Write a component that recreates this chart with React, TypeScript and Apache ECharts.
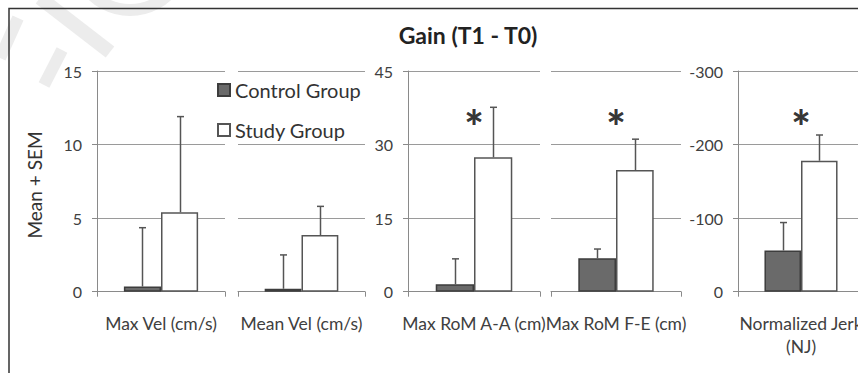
import React, { useEffect, useRef } from "react";
import * as echarts from "echarts";

const categories = [
  "Max Vel (cm/s)",
  "Mean Vel (cm/s)",
  "Max RoM A-A (cm)",
  "Max RoM F-E (cm)",
  "Normalized Jerk\n(NJ)",
];
const controlMean = [0.35, 0.2, 1.5, 6.8, -56];
const controlUpper = [4.35, 2.5, 6.7, 8.7, -94];
const studyMean = [5.4, 3.85, 27.4, 24.8, -178];
const studyUpper = [11.9, 5.8, 37.6, 31.1, -213];
const significant = [false, false, true, true, true];
const axisMin = [0, 0, 0, 0, -300];
const axisMax = [15, 15, 45, 45, 0];
const axisStep = [5, 5, 15, 15, 100];
const showYAxis = [true, false, true, false, true];
const seriesNames = ["Control Group", "Study Group"];
const titleText = "Gain (T1 - T0)";
const yAxisTitle = "Mean + SEM";

const FONT = 'Lato, "Open Sans", sans-serif';
const gridLefts = [97, 238, 408, 551, 738];
const gridWidths = [128, 127, 132, 130, 126];
const BAR_FRAC = 0.29;

export default function App() {
  const ref = useRef<HTMLDivElement>(null);
  useEffect(() => {
    if (!ref.current) return;
    const chart = echarts.init(ref.current, undefined, { renderer: "svg" });
    const grids: any[] = [];
    const xAxes: any[] = [];
    const yAxes: any[] = [];
    const series: any[] = [];
    categories.forEach((cat, i) => {
      grids.push({ left: gridLefts[i], width: gridWidths[i], top: 71, bottom: 81.3 });
      xAxes.push({
        type: "category",
        gridIndex: i,
        data: [cat],
        axisLine: { show: true, lineStyle: { color: "#8a8a8a", width: 1 } },
        axisTick: { show: true, length: 5, lineStyle: { color: "#8a8a8a" } },
        axisLabel: {
          interval: 0,
          margin: 20,
          color: "#404040",
          fontFamily: FONT,
          fontSize: 17.5,
          lineHeight: 23,
        },
      });
      yAxes.push({
        type: "value",
        gridIndex: i,
        min: axisMin[i],
        max: axisMax[i],
        interval: axisStep[i],
        inverse: axisMin[i] < 0,
        axisLine: { show: showYAxis[i], lineStyle: { color: "#8a8a8a", width: 1 } },
        axisTick: { show: showYAxis[i], length: 5, lineStyle: { color: "#8a8a8a" } },
        axisLabel: {
          show: showYAxis[i],
          margin: 15,
          color: "#404040",
          fontFamily: FONT,
          fontSize: 16,
        },
        splitLine: { show: true, lineStyle: { color: "#9a9a9a", width: 1 } },
      });
      series.push({
        type: "bar",
        name: seriesNames[0],
        xAxisIndex: i,
        yAxisIndex: i,
        data: [controlMean[i]],
        barWidth: BAR_FRAC * 100 + "%",
        barGap: "0%",
        itemStyle: { color: "#6a6a6a", borderColor: "#3d3d3d", borderWidth: 1.5 },
      });
      series.push({
        type: "bar",
        name: seriesNames[1],
        xAxisIndex: i,
        yAxisIndex: i,
        data: [studyMean[i]],
        barWidth: BAR_FRAC * 100 + "%",
        barGap: "0%",
        itemStyle: { color: "#ffffff", borderColor: "#555555", borderWidth: 1.5 },
      });
      const errData = [
        [0, controlMean[i], controlUpper[i], -1],
        [0, studyMean[i], studyUpper[i], 1],
      ];
      series.push({
        type: "custom",
        xAxisIndex: i,
        yAxisIndex: i,
        z: 5,
        data: errData,
        encode: { x: 0, y: [1, 2] },
        renderItem: (params: any, api: any) => {
          const c = api.value(0);
          const m = api.value(1);
          const u = api.value(2);
          const side = api.value(3);
          const p0 = api.coord([c, m]);
          const p1 = api.coord([c, u]);
          const w = api.size([1, 0])[0];
          const x = Math.round(p0[0] + side * (BAR_FRAC / 2) * w) + 0.5;
          const st = { stroke: "#555555", lineWidth: 1.5 };
          return {
            type: "group",
            children: [
              { type: "line", shape: { x1: x, y1: p0[1], x2: x, y2: p1[1] }, style: st },
              { type: "line", shape: { x1: x - 3.5, y1: p1[1], x2: x + 3.5, y2: p1[1] }, style: st },
            ],
          };
        },
      });
      if (significant[i]) {
        const lvl = (axisMin[i] < 0 ? axisMin[i] : axisMax[i]) * 0.8;
        series.push({
          type: "scatter",
          xAxisIndex: i,
          yAxisIndex: i,
          symbolSize: 0,
          silent: true,
          data: [[0, lvl]],
          label: {
            show: true,
            position: "inside",
            formatter: "*",
            fontFamily: FONT,
            fontWeight: 900,
            fontSize: 46,
            color: "#000000",
            offset: [0, 11],
          },
        });
      }
    });

    chart.setOption({
      animation: false,
      backgroundColor: "#ffffff",
      grid: grids,
      xAxis: xAxes,
      yAxis: yAxes,
      series,
      legend: {
        data: seriesNames,
        orient: "vertical",
        left: 212,
        top: 75,
        itemWidth: 12,
        itemHeight: 12,
        itemGap: 20,
        icon: "rect",
        textStyle: { fontFamily: FONT, fontSize: 20, color: "#333333", lineHeight: 20 },
      },
      graphic: [
        {
          type: "line",
          z: -10,
          silent: true,
          shape: { x1: 40, y1: -2, x2: 110, y2: 52 },
          style: { stroke: "#ececec", lineWidth: 14 },
        },
        {
          type: "arc",
          z: -10,
          silent: true,
          shape: { cx: 130, cy: -45, r: 55, startAngle: Math.PI * 0.2, endAngle: Math.PI * 0.8 },
          style: { stroke: "#ececec", lineWidth: 12, fill: "none" },
        },
        {
          type: "line",
          z: -10,
          silent: true,
          shape: { x1: 0, y1: 58, x2: 18, y2: 18 },
          style: { stroke: "#ececec", lineWidth: 12 },
        },
        {
          type: "line",
          z: -10,
          silent: true,
          shape: { x1: 62, y1: 50, x2: 44, y2: 85 },
          style: { stroke: "#ececec", lineWidth: 12 },
        },
        {
          type: "rect",
          silent: true,
          shape: { x: 9, y: 8.5, width: 1000, height: 1000 },
          style: { fill: "none", stroke: "#333333", lineWidth: 1.5 },
        },
        {
          type: "text",
          x: 468,
          y: 35,
          style: {
            text: titleText,
            fontFamily: FONT,
            fontWeight: "bold",
            fontSize: 23,
            fill: "#222222",
            align: "center",
            verticalAlign: "middle",
          },
        },
        {
          type: "text",
          x: 34,
          y: 185,
          rotation: Math.PI / 2,
          style: {
            text: yAxisTitle,
            fontFamily: FONT,
            fontSize: 19,
            fill: "#333333",
            align: "center",
            verticalAlign: "middle",
          },
        },
      ],
    });
    return () => chart.dispose();
  }, []);
  return (
    <div style={{ position: "fixed", left: 0, top: 0, width: 858, height: 373, overflow: "hidden", background: "#fff" }}>
      <div ref={ref} style={{ width: 880, height: 373 }} />
    </div>
  );
}
